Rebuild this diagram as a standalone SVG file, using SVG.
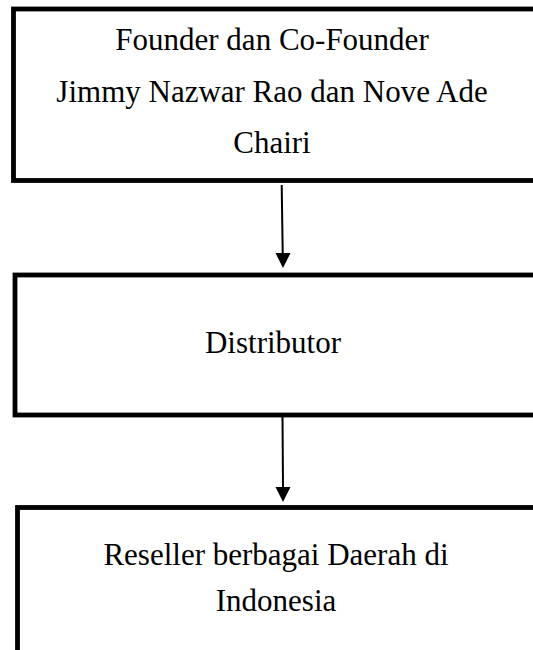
<svg xmlns="http://www.w3.org/2000/svg" width="533" height="650" viewBox="0 0 533 650">
<style>
.box{fill:#fff;stroke:#000;stroke-width:4.8}
.t{font-family:"Liberation Serif","Times New Roman",serif;font-size:31px;fill:#000;text-anchor:middle}
.c{stroke:#000;stroke-width:2;fill:none}
</style>
<defs>
<marker id="ah" markerWidth="8" markerHeight="8" refX="7.5" refY="4" orient="auto" markerUnits="strokeWidth">
<path d="M0,0 L7.5,4 L0,8 Z" fill="#000"/>
</marker>
</defs>
<rect width="533" height="650" fill="#fff"/>
<g id="founder">
<rect class="box" x="13.5" y="9" width="530" height="171.5"/>
<text class="t" x="272" y="50">Founder dan Co-Founder</text>
<text class="t" x="272" y="101.5">Jimmy Nazwar Rao dan Nove Ade</text>
<text class="t" x="272" y="153">Chairi</text>
</g>
<g id="distributor">
<rect class="box" x="15" y="275" width="530" height="140"/>
<text class="t" x="273" y="353">Distributor</text>
</g>
<g id="reseller">
<rect class="box" x="17.5" y="507.5" width="530" height="160"/>
<text class="t" x="276" y="565">Reseller berbagai Daerah di</text>
<text class="t" x="276" y="611">Indonesia</text>
</g>
<g id="connectors">
<line class="c" x1="281.7" y1="185" x2="282.7" y2="253"/>
<path d="M275.5,253 L290.5,253 L283,268 Z" fill="#000"/>
<line class="c" x1="282.5" y1="417" x2="283" y2="487"/>
<path d="M275.5,487 L290.5,487 L283,502 Z" fill="#000"/>
</g>
</svg>
